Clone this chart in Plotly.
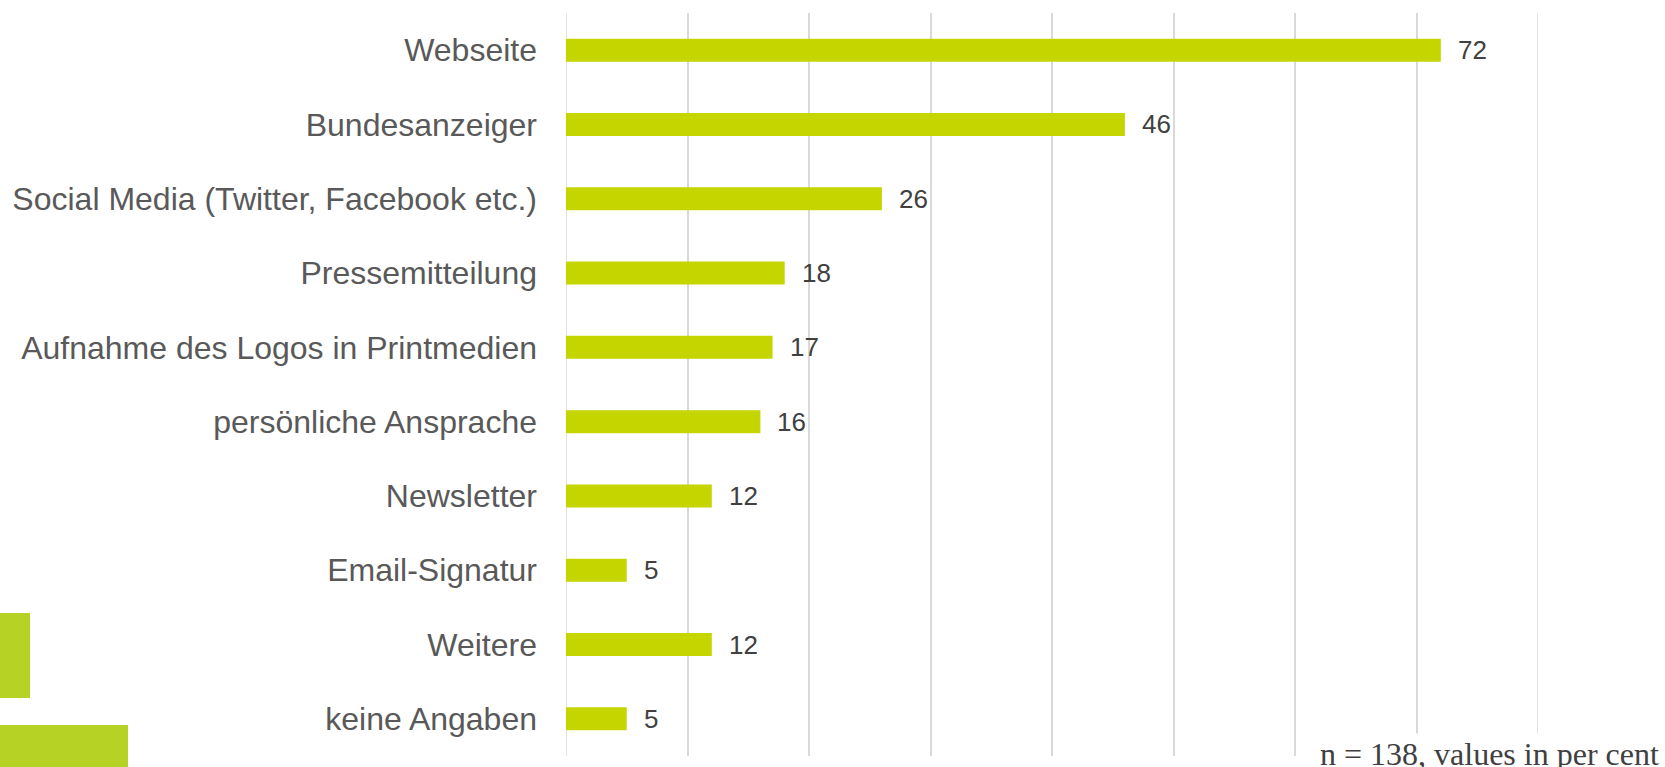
import plotly.graph_objects as go

# Daten
categories = [
    "Webseite",
    "Bundesanzeiger",
    "Social Media (Twitter, Facebook etc.)",
    "Pressemitteilung",
    "Aufnahme des Logos in Printmedien",
    "persönliche Ansprache",
    "Newsletter",
    "Email-Signatur",
    "Weitere",
    "keine Angaben",
]
values = [72, 46, 26, 18, 17, 16, 12, 5, 12, 5]
x_ticks = [0, 10, 20, 30, 40, 50, 60, 70, 80]
footnote = "n = 138, values in per cent"

BAR_COLOR = "#c5d500"
DECO_COLOR = "#b5d225"
GRID_COLOR = "#d9d9d9"

# Plotbereich in Pixeln
W, H = 1665, 767
L, R, T, B = 566, 127, 13, 11
PW, PH = W - L - R, H - T - B

fig = go.Figure()

fig.add_trace(go.Bar(
    y=categories,
    x=values,
    orientation="h",
    marker=dict(color=BAR_COLOR, line=dict(width=0)),
    hoverinfo="skip",
))

# Werte rechts neben den Balken
for cat, val in zip(categories, values):
    fig.add_annotation(
        x=val, y=cat, text=str(val),
        xanchor="left", yanchor="middle", xshift=15,
        showarrow=False,
        font=dict(family="Liberation Sans, Arial", size=26, color="#404040"),
    )

# Gitterlinien an den Rändern (0 und 80), die Plotly sonst weglässt
for xv in (x_ticks[0], x_ticks[-1]):
    fig.add_shape(type="line", xref="x", yref="paper", x0=xv, x1=xv, y0=0, y1=1,
                  line=dict(color=GRID_COLOR, width=1.5), layer="below")

# Fussnote (weisser Hintergrund, verdeckt die Gitterlinien)
fig.add_annotation(
    xref="paper", yref="paper", x=(1662 - L) / PW, y=(H - B - 775) / PH,
    xanchor="right", yanchor="bottom",
    text=footnote, showarrow=False,
    bgcolor="white", borderpad=2,
    font=dict(family="Liberation Serif, Times New Roman", size=32, color="#404040"),
)

# Dekorative Rechtecke unten links
def px_rect(x0, x1, y0, y1):
    fig.add_shape(type="rect", xref="paper", yref="paper",
                  x0=(x0 - L) / PW, x1=(x1 - L) / PW,
                  y0=(H - B - y1) / PH, y1=(H - B - y0) / PH,
                  fillcolor=DECO_COLOR, line_width=0, layer="above")

px_rect(0, 30, 613, 698)
px_rect(0, 128, 725, 770)

fig.update_layout(
    width=W,
    height=H,
    margin=dict(l=L, r=R, t=T, b=B),
    plot_bgcolor="white",
    paper_bgcolor="white",
    showlegend=False,
    bargap=0.69,
    font=dict(family="Liberation Sans, Arial"),
)

fig.update_xaxes(
    range=[0, 80],
    tickvals=x_ticks,
    showticklabels=False,
    showgrid=True, gridcolor=GRID_COLOR, gridwidth=1.5,
    zeroline=False, showline=False,
    automargin=False,
)
fig.update_yaxes(
    autorange="reversed",
    showgrid=False, zeroline=False, showline=False,
    ticks="", ticklabelstandoff=28,
    tickfont=dict(family="Liberation Sans, Arial", size=32, color="#595959"),
    automargin=False,
)

fig.write_html("out.html", config={"displayModeBar": False},
               post_script="document.body.style.margin='0';")
